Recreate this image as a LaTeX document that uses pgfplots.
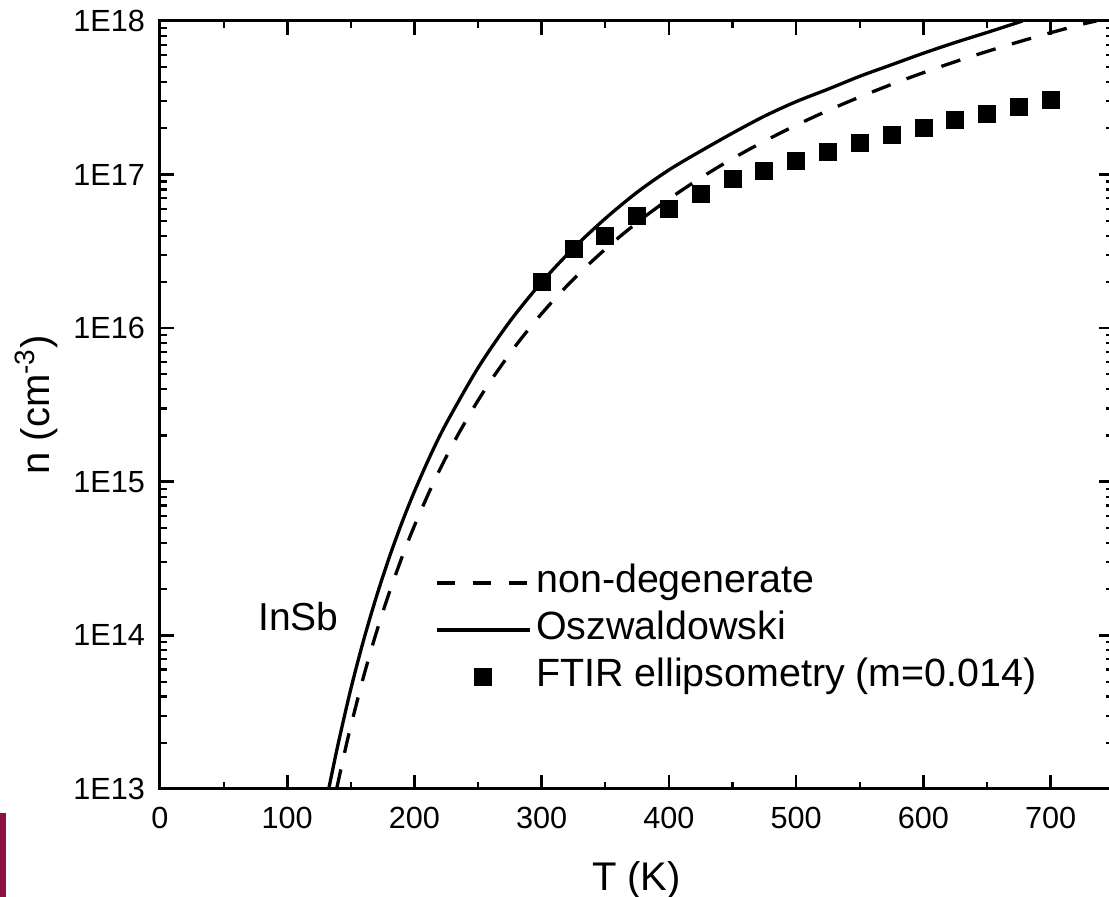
\documentclass[border=0pt]{standalone}
\usepackage{pgfplots}
\pgfplotsset{compat=1.18}
\usepackage{fontspec}
\setmainfont{Liberation Sans}
\definecolor{barmaroon}{RGB}{140,16,66}
\pgfplotsset{
  dashleg/.style={legend image code/.code={\draw[##1, dash pattern=on 9pt off 9pt] (0pt,0pt) -- (46.5pt,0pt);}},
  lineleg/.style={legend image code/.code={\draw[##1] (0pt,0pt) -- (46.5pt,0pt);}},
  markleg/.style={legend image code/.code={\draw[mark repeat=2,mark phase=2,##1] plot coordinates {(0pt,0pt) (23.25pt,0pt) (46.5pt,0pt)};}},
}
\begin{document}
\begin{tikzpicture}
\useasboundingbox (-80pt,-54pt) rectangle (474.5pt,394.5pt);
\fill[barmaroon] (-80pt,-54pt) rectangle (-77pt,-12pt);
\begin{axis}[
  at={(0,0)}, anchor=south west,
  scale only axis, width=476.5pt, height=384pt,
  xmin=0, xmax=749, ymode=log, ymin=1e13, ymax=1e18,
  xtick={0,100,...,700}, xticklabels={0,100,200,300,400,500,600,700},
  minor x tick num=1,
  ytick={1e13,1e14,1e15,1e16,1e17,1e18},
  yticklabels={1E13,1E14,1E15,1E16,1E17,1E18},
  tick align=inside,
  major tick length=7pt, minor tick length=3.5pt,
  every major tick/.style={line width=1.3pt, black},
  every minor tick/.style={line width=1.1pt, black},
  axis line style={line width=1.5pt},
  tick label style={font=\fontsize{15.3}{18}\selectfont},
  xticklabel style={yshift=-5.5pt},
  yticklabel style={xshift=-4pt},
  xlabel={T (K)}, ylabel={n (cm\textsuperscript{-3})},
  label style={font=\fontsize{20}{24}\selectfont},
  xlabel style={at={(axis description cs:0.5,0)}, anchor=base, yshift=-51pt},
  ylabel style={at={(axis description cs:-0.11543,0.5)}, anchor=base},
  legend style={draw=none, fill=none, at={(axis description cs:0.28856,0.2917)}, anchor=north west,
    inner sep=0pt, outer sep=0pt, font=\fontsize{19.7}{23}\selectfont, row sep=5.5pt, column sep=2.5pt,
    nodes={inner ysep=0pt, inner xsep=0pt, text height=14pt, text depth=4pt}},
  legend cell align=left,
]
\addplot[black, line width=1.65pt, dash pattern=on 10pt off 8.5pt, smooth, dashleg]
coordinates {
(138.8,1.0e13) (145,1.715e13) (150,2.573e13) (160,5.39e13) (170,1.041e14) (180,1.877e14)
(190,3.196e14) (200,5.18e14) (215,9.89e14) (230,1.747e15) (245,2.897e15) (260,4.552e15)
(280,7.777e15) (300,1.245e16) (320,1.892e16) (340,2.751e16) (360,3.857e16) (380,5.241e16)
(400,6.935e16) (425,9.526e16) (450,1.27e17) (475,1.649e17) (500,2.096e17) (525,2.612e17)
(550,3.2e17) (575,3.865e17) (600,4.607e17) (625,5.43e17) (650,6.33e17) (675,7.315e17)
(700,8.381e17) (725,9.532e17) (736,1.0e18)
};
\addlegendentry{non-degenerate}
\addplot[black, line width=1.65pt, smooth, lineleg]
coordinates {
(132.6,1.0e13) (140,1.963e13) (150,4.487e13) (160,9.29e13) (170,1.778e14) (180,3.184e14)
(190,5.383e14) (200,8.66e14) (212.5,1.483e15) (225,2.399e15) (250,5.521e15) (275,1.107e16)
(300,1.995e16) (325,3.319e16) (350,5.176e16) (375,7.674e16) (400,1.072e17) (425,1.422e17)
(450,1.862e17) (475,2.399e17) (500,2.985e17) (525,3.597e17) (550,4.365e17) (575,5.188e17)
(600,6.166e17) (625,7.244e17) (650,8.414e17) (678,1.0e18)
};
\addlegendentry{Oszwaldowski}
\addplot[only marks, mark=square*, mark size=4.25pt, black, markleg]
coordinates {
(300,2.0e16) (325,3.28e16) (350,4.0e16) (375,5.4e16) (400,6.0e16) (425,7.5e16)
(450,9.4e16) (475,1.05e17) (500,1.23e17) (525,1.40e17) (550,1.61e17) (575,1.81e17)
(600,2.01e17) (625,2.27e17) (650,2.48e17) (675,2.75e17) (700,3.06e17)
};
\addlegendentry{FTIR ellipsometry (m=0.014)}
\node[anchor=base west, inner sep=0pt, font=\fontsize{19.5}{23}\selectfont] at (axis cs:77,1.08e14) {InSb};
\end{axis}
\end{tikzpicture}
\end{document}
